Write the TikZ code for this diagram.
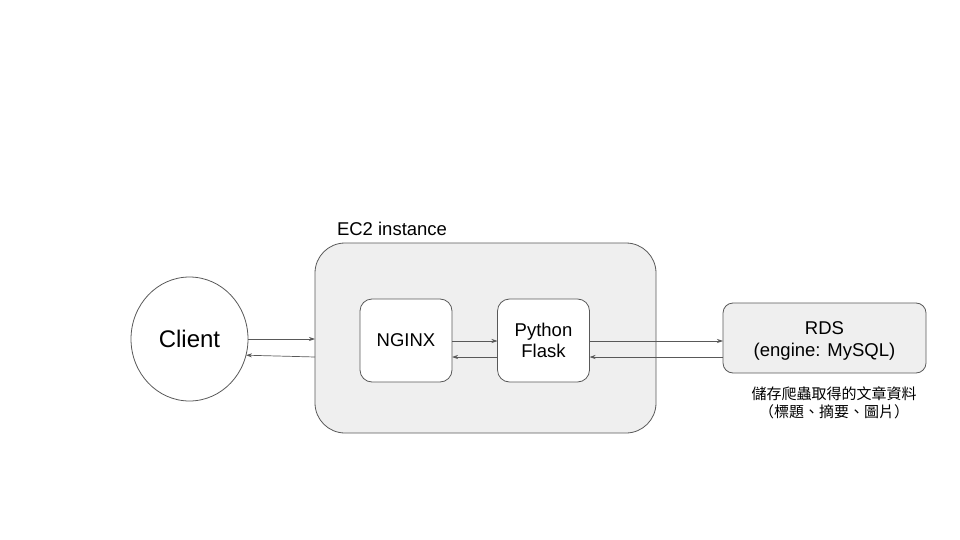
\documentclass[tikz,border=0pt]{standalone}
\usepackage{fontspec}
\setmainfont{Liberation Sans}
\newfontfamily\cjkfont{Noto Sans CJK TC}
\usetikzlibrary{arrows.meta,shapes.geometric}
\definecolor{linegray}{HTML}{595959}
\definecolor{boxfill}{HTML}{EFEFEF}
\tikzset{
  every node/.style={inner sep=0pt, outer sep=0pt},
  bigbox/.style={draw=linegray, line width=0.8pt, fill=boxfill, rounded corners=30pt, minimum width=341pt, minimum height=190pt},
  innerbox/.style={draw=linegray, line width=0.8pt, fill=white, rounded corners=12pt, minimum width=92pt, minimum height=83pt, align=center, font=\fontsize{18.5}{21.5}\selectfont},
  rdsbox/.style={draw=linegray, line width=0.8pt, fill=boxfill, rounded corners=10pt, minimum width=203pt, minimum height=70pt},
  rdstext/.style={align=center, font=\fontsize{18.5}{22.5}\selectfont},
  clientnode/.style={draw=linegray, line width=0.8pt, fill=white, ellipse, minimum width=117pt, minimum height=124pt, font=\fontsize{24}{28}\selectfont},
  conn/.style={draw=linegray, line width=0.7pt, -{Stealth[length=6pt,width=4pt]}},
  lbl/.style={font=\fontsize{18.5}{21.5}\selectfont, anchor=west},
  note/.style={font=\cjkfont\fontsize{15}{18}\selectfont, align=center}
}
\begin{document}
\begin{tikzpicture}[x=1pt,y=-1pt]
\useasboundingbox (0,0) rectangle (960,540);
\node[bigbox] (ec2) at (485.5,338) {};
\node[lbl] (ec2lbl) at (337,229) {EC2 instance};
\node[clientnode] (client) at (189.5,339) {Client};
\node[innerbox] (nginx) at (406,340.5) {NGINX};
\node[innerbox] (flask) at (543.5,340.5) {Python\\Flask};
\node[rdsbox] (rds) at (824.5,338) {};
\node[rdstext] (rdslabel) at (824.5,341) {RDS\\(engine: MySQL)};
\node[note] (rdsnote) at (834,402.5) {儲存爬蟲取得的文章資料\\（標題、摘要、圖片）};
% connectors
\coordinate (c1) at (ec2.west |- 0,339);
\coordinate (c2) at (ec2.west |- 0,357);
\draw[conn] (client.east |- 0,339) -- (c1);
\draw[conn] (c2) -- (client.-16);
\draw[conn] (nginx.east |- 0,341) -- (flask.west |- 0,341);
\draw[conn] (flask.west |- 0,357) -- (nginx.east |- 0,357);
\draw[conn] (flask.east |- 0,341) -- (rds.west |- 0,341);
\draw[conn] (rds.west |- 0,357) -- (flask.east |- 0,357);
\end{tikzpicture}
\end{document}
